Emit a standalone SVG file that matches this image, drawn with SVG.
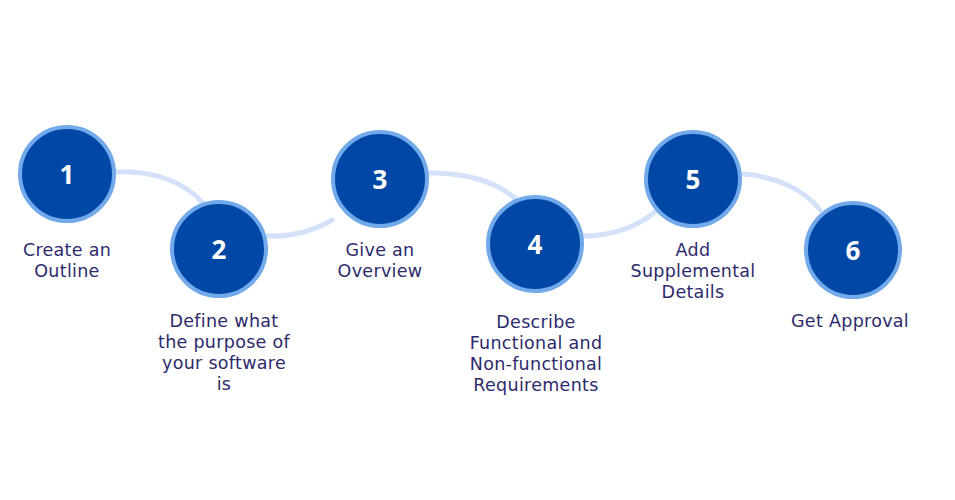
<svg xmlns="http://www.w3.org/2000/svg" width="955" height="500" viewBox="0 0 955 500">
<style>
.bg{fill:#ffffff}
.c{fill:#0147a5;stroke:#72a9ea;stroke-width:4}
.n{font-family:"Open Sans","Liberation Sans",sans-serif;font-weight:700;font-size:26px;fill:#ffffff;text-anchor:middle}
.l{font-family:"DejaVu Sans","Liberation Sans",sans-serif;font-size:17.5px;letter-spacing:0.3px;fill:#2d2a6c;text-anchor:middle}
.e{fill:none;stroke:#d3e2f8;stroke-width:5;stroke-linecap:round}
</style>
<rect class="bg" width="955" height="500"/>
<g id="connectors">
<path class="e" d="M114,172 C150,170 185,180 205,206"/>
<path class="e" d="M268,236 C295,237 315,230 332,220"/>
<path class="e" d="M428,173 C465,172 500,182 520,203"/>
<path class="e" d="M583,236 C612,236 635,228 655,212"/>
<path class="e" d="M743,174 C775,176 805,190 820,210"/>
</g>
<g id="n1"><circle class="c" cx="67" cy="174" r="47"/><text class="n" x="67" y="184">1</text><text class="l" x="67" y="256">Create an</text><text class="l" x="67" y="277">Outline</text></g>
<g id="n2"><circle class="c" cx="219" cy="249" r="47"/><text class="n" x="219" y="259">2</text><text class="l" x="224" y="327">Define what</text><text class="l" x="224" y="348">the purpose of</text><text class="l" x="224" y="369">your software</text><text class="l" x="224" y="390">is</text></g>
<g id="n3"><circle class="c" cx="380" cy="179" r="47"/><text class="n" x="380" y="189">3</text><text class="l" x="380" y="256">Give an</text><text class="l" x="380" y="277">Overview</text></g>
<g id="n4"><circle class="c" cx="535" cy="244" r="47"/><text class="n" x="535" y="254">4</text><text class="l" x="536" y="328">Describe</text><text class="l" x="536" y="349">Functional and</text><text class="l" x="536" y="370">Non-functional</text><text class="l" x="536" y="391">Requirements</text></g>
<g id="n5"><circle class="c" cx="693" cy="179" r="47"/><text class="n" x="693" y="189">5</text><text class="l" x="693" y="256">Add</text><text class="l" x="693" y="277">Supplemental</text><text class="l" x="693" y="298">Details</text></g>
<g id="n6"><circle class="c" cx="853" cy="250" r="47"/><text class="n" x="853" y="260">6</text><text class="l" x="850" y="327">Get Approval</text></g>
</svg>
